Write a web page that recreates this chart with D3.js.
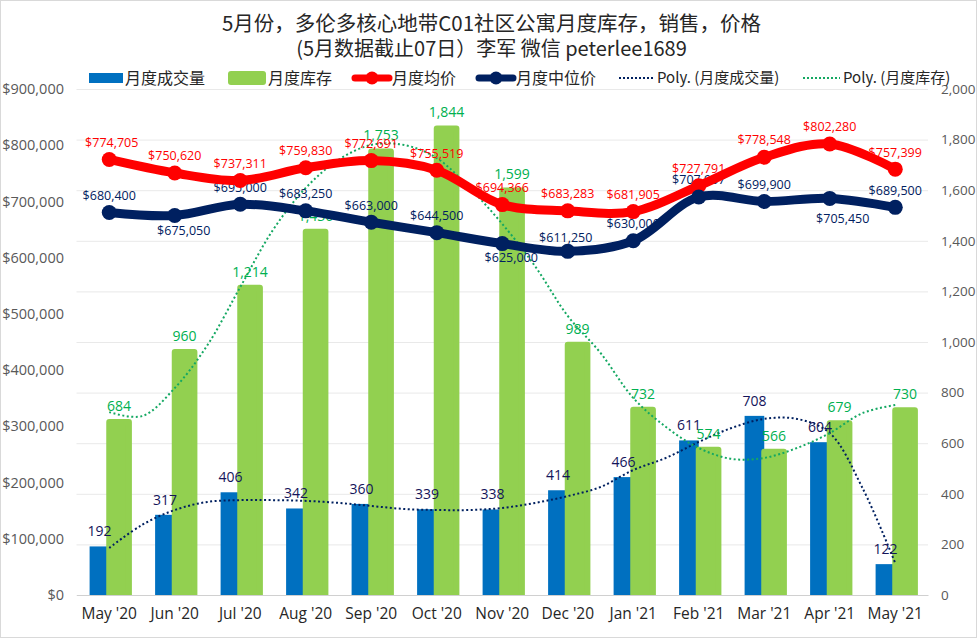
<!DOCTYPE html>
<html>
<head>
<meta charset="utf-8">
<script src="https://cdnjs.cloudflare.com/ajax/libs/d3/7.8.5/d3.min.js"></script>
<style>
  html, body { margin: 0; padding: 0; background: #fff; }
  svg { display: block; }
  text { font-family: "Open Sans", "Noto Sans CJK SC", sans-serif; }
  .cjk, .cjk text { font-family: "Noto Sans CJK SC", "Open Sans", sans-serif; }
</style>
</head>
<body>
<div id="root"></div>
<script>
const months = ["May '20", "Jun '20", "Jul '20", "Aug '20", "Sep '20", "Oct '20", "Nov '20", "Dec '20", "Jan '21", "Feb '21", "Mar '21", "Apr '21", "May '21"];
const sales = [192, 317, 406, 342, 360, 339, 338, 414, 466, 611, 708, 604, 122];
const inventory = [684, 960, 1214, 1436, 1753, 1844, 1599, 989, 732, 574, 566, 679, 730];
const avgPrice = [774705, 750620, 737311, 759830, 772691, 755519, 694366, 683283, 681905, 727791, 778548, 802280, 757399];
const medianPrice = [680400, 675050, 695000, 683250, 663000, 644500, 625000, 611250, 630000, 707937, 699900, 705450, 689500];
// trendlines every half month
const salesTrend = [186, 277, 336, 368, 375, 375, 372, 364, 352, 340, 336, 336, 344, 364, 391, 427, 494, 542, 605, 660, 696, 696, 640, 423, 126];
const inventoryTrend = [723, 707, 818, 988, 1217, 1443, 1609, 1720, 1779, 1779, 1727, 1609, 1467, 1300, 1103, 957, 779, 664, 581, 538, 542, 581, 640, 719, 751];
const priceTicks = [0, 100000, 200000, 300000, 400000, 500000, 600000, 700000, 800000, 900000];
const countTicks = [0, 200, 400, 600, 800, 1000, 1200, 1400, 1600, 1800, 2000];
const titleLines = ['5月份，多伦多核心地带C01社区公寓月度库存，销售，价格', '(5月数据截止07日）李军 微信 peterlee1689'];

const width = 977;
const height = 638;
const margin = { top: 89, right: 49, bottom: 43, left: 76.5 };
const plotBottom = height - margin.bottom;
const plotRight = width - margin.right;

const colors = { sales: '#0070c0', inventory: '#92d050', avg: '#ff0000', median: '#002060', green: '#00b050' };

const x = d3.scaleBand().domain(months).range([margin.left, plotRight]).paddingInner(0.4).paddingOuter(0.2);
const barX = d3.scaleBand().domain(['sales', 'inventory']).range([0, x.bandwidth()]);
const yPrice = d3.scaleLinear().domain([0, 900000]).range([plotBottom, margin.top]);
const yCount = d3.scaleLinear().domain([0, 2000]).range([plotBottom, margin.top]);
const center = i => x(months[i]) + x.bandwidth() / 2;
const trendX = d3.scaleLinear().domain([0, months.length - 1]).range([center(0), center(months.length - 1)]);

const svg = d3.select('#root').append('svg')
  .attr('width', width)
  .attr('height', height);

svg.append('rect')
  .attr('x', 0.5)
  .attr('y', 0.5)
  .attr('width', width - 1)
  .attr('height', height - 1)
  .attr('fill', '#fff')
  .attr('stroke', '#d9d9d9');

svg.append('defs').append('clipPath')
  .attr('id', 'plot-clip')
  .append('rect')
  .attr('x', 0)
  .attr('y', 0)
  .attr('width', width)
  .attr('height', plotBottom);

svg.selectAll('.title')
  .data(titleLines)
  .enter()
  .append('text')
  .attr('class', 'title cjk')
  .attr('x', 491.5)
  .attr('y', (d, i) => 31 + i * 25)
  .attr('text-anchor', 'middle')
  .attr('font-size', (d, i) => i === 0 ? 20.5 : 20)
  .attr('fill', '#262626')
  .text(d => d);

// gridlines come from the count axis, the price axis only has labels
const rightAxis = svg.append('g')
  .attr('transform', `translate(${plotRight}, 0)`)
  .call(d3.axisRight(yCount).tickValues(countTicks).tickFormat(d3.format(',')).tickSize(-(plotRight - margin.left)).tickPadding(13));
rightAxis.select('.domain').remove();
rightAxis.selectAll('line').attr('stroke', '#e9e9e9');
rightAxis.selectAll('text').attr('fill', '#595959').attr('font-size', 13.5).style('font-family', '"Open Sans"');

const leftAxis = svg.append('g')
  .attr('transform', `translate(${margin.left}, 0)`)
  .call(d3.axisLeft(yPrice).tickValues(priceTicks).tickFormat(d3.format('$,')).tickSize(0).tickPadding(12.5));
leftAxis.select('.domain').remove();
leftAxis.selectAll('text').attr('fill', '#595959').attr('font-size', 14.5).style('font-family', '"Open Sans"');

const bars = svg.append('g').attr('clip-path', 'url(#plot-clip)');

bars.selectAll('.sales-bar')
  .data(sales)
  .enter()
  .append('rect')
  .attr('class', 'sales-bar')
  .attr('x', (d, i) => x(months[i]) + barX('sales'))
  .attr('y', d => yCount(d))
  .attr('width', barX.bandwidth())
  .attr('height', d => plotBottom - yCount(d))
  .attr('fill', colors.sales);

// the thick round stroke gives the green bars their soft corners
bars.selectAll('.inventory-bar')
  .data(inventory)
  .enter()
  .append('rect')
  .attr('class', 'inventory-bar')
  .attr('x', (d, i) => x(months[i]) + barX('inventory'))
  .attr('y', d => yCount(d))
  .attr('width', barX.bandwidth())
  .attr('height', d => plotBottom - yCount(d))
  .attr('fill', colors.inventory)
  .attr('stroke', colors.inventory)
  .attr('stroke-width', 6)
  .attr('stroke-linejoin', 'round');

const bottomAxis = svg.append('g')
  .attr('transform', `translate(0, ${plotBottom})`)
  .call(d3.axisBottom(x).tickSize(0).tickPadding(13));
bottomAxis.select('.domain').attr('stroke', '#d0d0d0');
bottomAxis.selectAll('text').attr('fill', '#262626').attr('font-size', 15.5).style('font-family', '"Open Sans"');

function trendLine(values, color) {
  const line = d3.line()
    .x((d, i) => trendX(i / 2))
    .y(d => yCount(d))
    .curve(d3.curveCatmullRom);
  svg.append('path')
    .attr('d', line(values))
    .attr('fill', 'none')
    .attr('stroke', color)
    .attr('stroke-width', 2)
    .attr('stroke-dasharray', '2 2.5');
}

trendLine(salesTrend, colors.median);
trendLine(inventoryTrend, '#14a862');

function labels(values, opts) {
  svg.selectAll(`.${opts.name}`)
    .data(values)
    .enter()
    .append('text')
    .attr('class', opts.name)
    .attr('x', (d, i) => opts.x(i) + ((opts.shift[i] || [0, 0])[0]))
    .attr('y', (d, i) => opts.y(d) + ((opts.shift[i] || [0, opts.dy])[1]))
    .attr('dy', '0.35em')
    .attr('text-anchor', 'middle')
    .attr('font-size', opts.size)
    .attr('fill', opts.color)
    .text(d => opts.format(d));
}

labels(inventory, {
  name: 'inventory-label', x: i => x(months[i]) + barX('inventory') + barX.bandwidth() / 2,
  y: yCount, dy: -16, shift: {}, size: 14, color: colors.green, format: d3.format(',')
});
labels(sales, {
  name: 'sales-label', x: i => x(months[i]) + barX.bandwidth() / 2,
  y: yCount, dy: -15, shift: {}, size: 14, color: '#14145a', format: d3.format(',')
});
labels(medianPrice, {
  name: 'median-label', x: center, y: yPrice, dy: -17,
  shift: { 1: [9, 15], 6: [9, 14], 7: [-2, -14], 11: [13, 20] },
  size: 12.5, color: colors.median, format: d3.format('$,')
});

function priceLine(values, color) {
  const line = d3.line()
    .x((d, i) => center(i))
    .y(d => yPrice(d))
    .curve(d3.curveCatmullRom);
  svg.append('path')
    .attr('d', line(values))
    .attr('fill', 'none')
    .attr('stroke', color)
    .attr('stroke-width', 9)
    .attr('stroke-linecap', 'round');
  svg.append('g')
    .selectAll('circle')
    .data(values)
    .enter()
    .append('circle')
    .attr('cx', (d, i) => center(i))
    .attr('cy', d => yPrice(d))
    .attr('r', 7.5)
    .attr('fill', color);
}

priceLine(avgPrice, colors.avg);
priceLine(medianPrice, colors.median);

labels(avgPrice, {
  name: 'avg-label', x: center, y: yPrice, dy: -17,
  shift: { 0: [2.5, -17], 10: [0, -18] },
  size: 12.5, color: colors.avg, format: d3.format('$,')
});

// legend
const legendY = 78;
const legend = svg.append('g').attr('class', 'cjk');

legend.append('rect').attr('x', 89).attr('y', legendY - 5).attr('width', 34).attr('height', 10).attr('fill', colors.sales);
legend.append('rect').attr('x', 228).attr('y', legendY - 7).attr('width', 38).attr('height', 14).attr('rx', 3).attr('fill', colors.inventory);

[[352, 392, colors.avg], [476, 516, colors.median]].forEach(([x1, x2, color]) => {
  legend.append('line')
    .attr('x1', x1 + 3).attr('x2', x2 - 3).attr('y1', legendY).attr('y2', legendY)
    .attr('stroke', color).attr('stroke-width', 7).attr('stroke-linecap', 'round');
  legend.append('circle').attr('cx', (x1 + x2) / 2).attr('cy', legendY).attr('r', 6.5).attr('fill', color);
});

[[619, 655, colors.median], [803, 840, '#14a862']].forEach(([x1, x2, color]) => {
  legend.append('line')
    .attr('x1', x1).attr('x2', x2).attr('y1', legendY).attr('y2', legendY)
    .attr('stroke', color).attr('stroke-width', 2).attr('stroke-dasharray', '2 2');
});

legend.selectAll('text')
  .data([[125, '月度成交量'], [268, '月度库存'], [392, '月度均价'], [516, '月度中位价'], [657, 'Poly. (月度成交量)'], [843, 'Poly. (月度库存)']])
  .enter()
  .append('text')
  .attr('x', d => d[0])
  .attr('y', legendY)
  .attr('dy', '0.35em')
  .attr('font-size', d => d[1].startsWith('Poly') ? 15 : 16)
  .attr('fill', '#262626')
  .text(d => d[1]);
</script>
</body>
</html>
